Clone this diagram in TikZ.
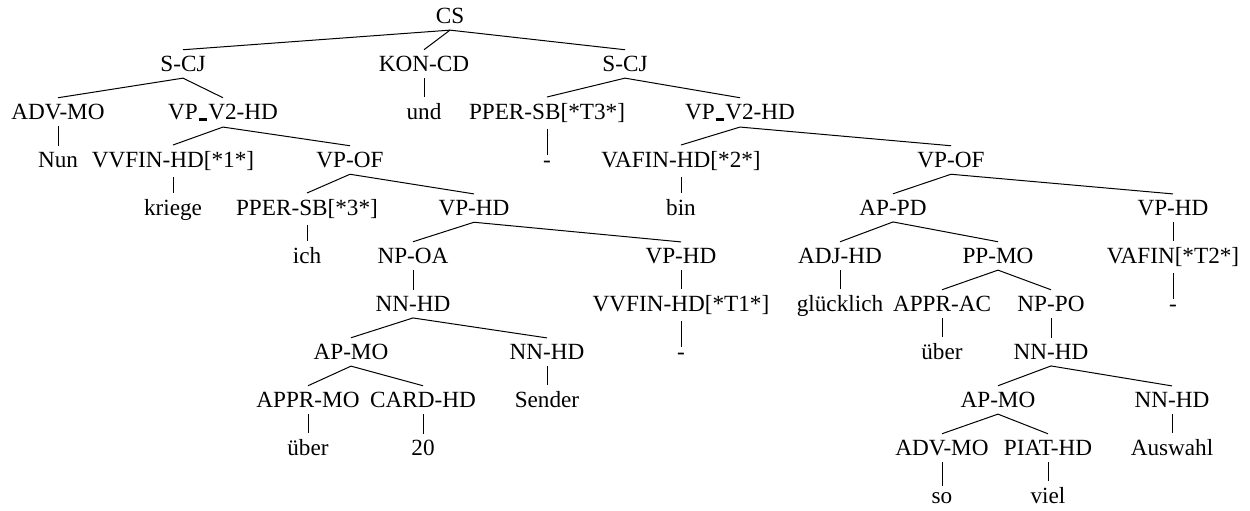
\documentclass[tikz,border=0pt]{standalone}
\usepackage{fontspec}
\setmainfont{Liberation Serif}
\usepackage{tikz}
\newcommand{\usc}{\kern.04em\rule[-.05em]{.38em}{.1em}\kern.04em}

\begin{document}
\begin{tikzpicture}[x=0.5pt,y=-0.5pt]
        \useasboundingbox (0,0) rectangle (1250,510);
        \begin{scope}[every node/.style={anchor=base,inner xsep=0pt,inner ysep=3pt,font=\fontsize{11.6}{14}\selectfont}]
          % row 0 and 1
          \node (cs) at (450,23.5) {CS};
          \node (scja) at (183,71.5) {S-CJ};
          \node (kon) at (424,71.5) {KON-CD};
          \node (scjb) at (625,71.5) {S-CJ};
          % row 2
          \node (adva) at (58,119.5) {ADV-MO};
          \node (vpva) at (223,119.5) {VP\usc V2-HD};
          \node (und) at (424,119.5) {und};
          \node (pperb) at (547,119.5) {PPER-SB[*T3*]};
          \node (vpvb) at (740,119.5) {VP\usc V2-HD};
          % row 3
          \node (nun) at (58,167.5) {Nun};
          \node (vvfina) at (173,167.5) {VVFIN-HD[*1*]};
          \node (vpofa) at (350,167.5) {VP-OF};
          \node (dasha) at (547,167.5) {-};
          \node (vafin) at (681,167.5) {VAFIN-HD[*2*]};
          \node (vpofb) at (951,167.5) {VP-OF};
          % row 4
          \node (kriege) at (173,215.5) {kriege};
          \node (ppera) at (307,215.5) {PPER-SB[*3*]};
          \node (vphda) at (474,215.5) {VP-HD};
          \node (bin) at (681,215.5) {bin};
          \node (appd) at (893,215.5) {AP-PD};
          \node (vphdc) at (1173,215.5) {VP-HD};
          % row 5
          \node (ich) at (307,263.5) {ich};
          \node (npoa) at (413,263.5) {NP-OA};
          \node (vphdb) at (681,263.5) {VP-HD};
          \node (adjhd) at (840,263.5) {ADJ-HD};
          \node (ppmo) at (998,263.5) {PP-MO};
          \node (vafint) at (1173,263.5) {VAFIN[*T2*]};
          % row 6
          \node (nnhda) at (413,311.5) {NN-HD};
          \node (vvfinb) at (681,311.5) {VVFIN-HD[*T1*]};
          \node (gluecklich) at (840,311.5) {glücklich};
          \node (apprac) at (942,311.5) {APPR-AC};
          \node (nppo) at (1051,311.5) {NP-PO};
          \node (dashc) at (1173,311.5) {-};
          % row 7
          \node (apmoa) at (351,359.5) {AP-MO};
          \node (nnhdb) at (547,359.5) {NN-HD};
          \node (dashb) at (681,359.5) {-};
          \node (ueberb) at (942,359.5) {über};
          \node (nnhdc) at (1051,359.5) {NN-HD};
          % row 8
          \node (apprmo) at (308,407.5) {APPR-MO};
          \node (cardhd) at (423,407.5) {CARD-HD};
          \node (sender) at (547,407.5) {Sender};
          \node (apmob) at (998,407.5) {AP-MO};
          \node (nnhdd) at (1172,407.5) {NN-HD};
          % row 9 and 10
          \node (uebera) at (308,455.5) {über};
          \node (zwanzig) at (423,455.5) {20};
          \node (advb) at (942,455.5) {ADV-MO};
          \node (piat) at (1048,455.5) {PIAT-HD};
          \node (auswahl) at (1172,455.5) {Auswahl};
          \node (so) at (942,503.5) {so};
          \node (viel) at (1048,503.5) {viel};
        \end{scope}
        \begin{scope}[every edge/.style={draw=black,line width=0.5pt}]
          \path (cs.south) edge (scja.north);
          \path (cs.south) edge (kon.north);
          \path (cs.south) edge (scjb.north);
          \path (scja.south) edge (adva.north);
          \path (scja.south) edge (vpva.north);
          \path (adva.south) edge (nun.north);
          \path (vpva.south) edge (vvfina.north);
          \path (vpva.south) edge (vpofa.north);
          \path (vvfina.south) edge (kriege.north);
          \path (vpofa.south) edge (ppera.north);
          \path (vpofa.south) edge (vphda.north);
          \path (ppera.south) edge (ich.north);
          \path (vphda.south) edge (npoa.north);
          \path (vphda.south) edge (vphdb.north);
          \path (npoa.south) edge (nnhda.north);
          \path (nnhda.south) edge (apmoa.north);
          \path (nnhda.south) edge (nnhdb.north);
          \path (apmoa.south) edge (apprmo.north);
          \path (apmoa.south) edge (cardhd.north);
          \path (apprmo.south) edge (uebera.north);
          \path (cardhd.south) edge (zwanzig.north);
          \path (nnhdb.south) edge (sender.north);
          \path (vphdb.south) edge (vvfinb.north);
          \path (vvfinb.south) edge (dashb.north);
          \path (kon.south) edge (und.north);
          \path (scjb.south) edge (pperb.north);
          \path (scjb.south) edge (vpvb.north);
          \path (pperb.south) edge (dasha.north);
          \path (vpvb.south) edge (vafin.north);
          \path (vpvb.south) edge (vpofb.north);
          \path (vafin.south) edge (bin.north);
          \path (vpofb.south) edge (appd.north);
          \path (vpofb.south) edge (vphdc.north);
          \path (appd.south) edge (adjhd.north);
          \path (appd.south) edge (ppmo.north);
          \path (adjhd.south) edge (gluecklich.north);
          \path (ppmo.south) edge (apprac.north);
          \path (ppmo.south) edge (nppo.north);
          \path (apprac.south) edge (ueberb.north);
          \path (nppo.south) edge (nnhdc.north);
          \path (nnhdc.south) edge (apmob.north);
          \path (nnhdc.south) edge (nnhdd.north);
          \path (apmob.south) edge (advb.north);
          \path (apmob.south) edge (piat.north);
          \path (advb.south) edge (so.north);
          \path (piat.south) edge (viel.north);
          \path (nnhdd.south) edge (auswahl.north);
          \path (vphdc.south) edge (vafint.north);
          \path (vafint.south) edge (dashc.north);
        \end{scope}
      \end{tikzpicture}
\end{document}
